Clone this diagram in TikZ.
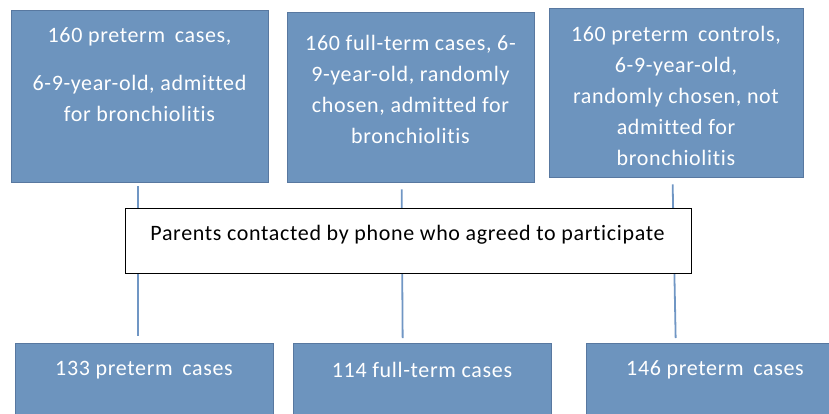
\documentclass[tikz,border=0pt]{standalone}
\usepackage{fontspec}
\setmainfont[Ligatures=NoCommon,LetterSpace=3]{Carlito}
\definecolor{boxfill}{RGB}{109,148,190}
\definecolor{boxedge}{RGB}{88,120,160}
\definecolor{linkcol}{RGB}{112,150,196}
\begin{document}
\begin{tikzpicture}[x=1pt,y=-1pt,
  bluebox/.style={draw=boxedge,fill=boxfill,line width=1.3pt,rectangle,anchor=north west,inner sep=0pt},
  whitebox/.style={draw=black,fill=white,line width=1.2pt,rectangle,anchor=north west,inner sep=0pt},
  wtext/.style={text=white,font=\fontsize{22}{31}\selectfont,align=center,inner sep=0pt},
  btext/.style={text=black,font=\fontsize{22}{31}\selectfont,align=center,inner sep=0pt},
  link/.style={draw=linkcol,line width=1.8pt}]
\useasboundingbox (0,0) rectangle (829,413);
\clip (0,0) rectangle (829,413);
% top boxes
\node[bluebox,minimum width=257pt,minimum height=172pt] (b1) at (11,10) {};
\node[bluebox,minimum width=247pt,minimum height=170pt] (b2) at (287,12) {};
\node[bluebox,minimum width=254pt,minimum height=169pt] (b3) at (549,8) {};
% bottom boxes
\node[bluebox,minimum width=258pt,minimum height=90pt] (b4) at (15,343) {};
\node[bluebox,minimum width=258pt,minimum height=90pt] (b5) at (293,343) {};
\node[bluebox,minimum width=258pt,minimum height=90pt] (b6) at (586,343) {};
% connectors
\draw[link] ([xshift=-2.5pt,yshift=-3pt]b1.south) -- ([xshift=-7pt,yshift=7pt]b4.north);
\draw[link] ([xshift=-9.5pt,yshift=-6pt]b2.south) -- ([xshift=-20pt,yshift=5pt]b5.north);
\draw[link] ([xshift=-4pt,yshift=-6pt]b3.south) -- ([xshift=-40pt,yshift=5pt]b6.north);
% middle box
\node[whitebox,minimum width=566pt,minimum height=65pt] (mid) at (125,208) {};
% texts
\node[wtext] (t1) at (139.5,75) {160 preterm\hspace{4pt} cases,\\[17pt]6-9-year-old, admitted\\for bronchiolitis};
\node[wtext] (t2) at (410.5,89.5) {160 full-term cases, 6-\\9-year-old, randomly\\chosen, admitted for\\bronchiolitis};
\node[wtext] (t3) at (676,96) {160 preterm\hspace{4pt} controls,\\6-9-year-old,\\randomly chosen, not\\admitted for\\bronchiolitis};
\node[btext] (tm) at (407.5,235) {Parents contacted by phone who agreed to participate};
\node[wtext] (t4) at (144,370) {133 preterm\hspace{4pt} cases};
\node[wtext] (t5) at (422,370) {114 full-term cases};
\node[wtext] (t6) at (715,370) {146 preterm\hspace{4pt} cases};
\end{tikzpicture}
\end{document}
